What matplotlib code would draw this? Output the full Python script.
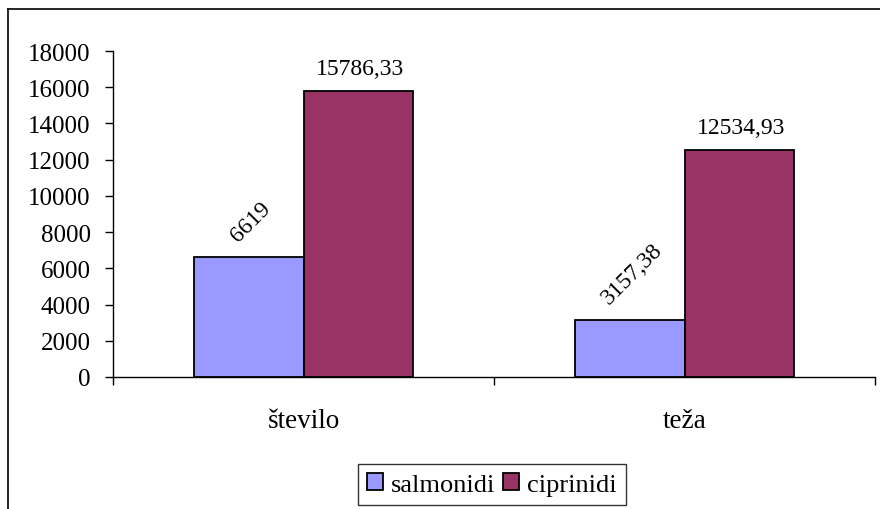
import numpy as np
import matplotlib
matplotlib.use('Agg')
from matplotlib import pyplot as plt
from matplotlib.lines import Line2D

categories = ['število', 'teža']
series_names = ['salmonidi', 'ciprinidi']
salmonidi = [6619, 3157.38]
ciprinidi = [15786.33, 12534.93]
value_labels = [['6619', '3157,38'], ['15786,33', '12534,93']]
y_ticks = [0, 2000, 4000, 6000, 8000, 10000, 12000, 14000, 16000, 18000]

colors = ['#9999FF', '#993366']
label_rotation = [45, 0]

plt.rcParams['font.family'] = ['Liberation Serif', 'DejaVu Serif']
plt.rcParams['font.size'] = 17

fig = plt.figure(figsize=(8.8, 5.1), dpi=100)
W, H = 880.0, 510.0

# chart area frame (only left and top edges are visible in the crop)
fig.add_artist(Line2D([8 / W, 8 / W], [0, 1 - 10 / H], transform=fig.transFigure, color='black', lw=1.2))
fig.add_artist(Line2D([8 / W, 1], [1 - 10 / H, 1 - 10 / H], transform=fig.transFigure, color='black', lw=1.2))

ax = fig.add_axes([113 / W, 132 / H, (875 - 113) / W, (378 - 52) / H])

x = np.arange(len(categories))
width = 0.287
series = [salmonidi, ciprinidi]
for i, values in enumerate(series):
    offset = (i - 0.5) * width
    bars = ax.bar(x + offset, values, width, color=colors[i], edgecolor='black',
                  linewidth=1.3, label=series_names[i], zorder=3)
    for b, txt in zip(bars, value_labels[i]):
        ax.annotate(txt, (b.get_x() + b.get_width() / 2, b.get_height()),
                    xytext=(2, 12), textcoords='offset pixels', fontsize=17,
                    ha='center', va='bottom', rotation=label_rotation[i])

ax.set_xlim(-0.5, len(categories) - 0.5)
ax.set_ylim(0, 18000)
ax.set_yticks(y_ticks)
ax.set_xticks(x)
ax.set_xticklabels(categories, fontsize=19.5)
ax.set_xticks(np.arange(len(categories) + 1) - 0.5, minor=True)
for lbl in ax.get_yticklabels():
    lbl.set_fontsize(18)

for side in ['top', 'right']:
    ax.spines[side].set_visible(False)
ax.spines['left'].set_linewidth(1.0)
ax.spines['bottom'].set_linewidth(1.0)

ax.tick_params(axis='y', direction='out', length=6, width=1.0, pad=10)
ax.tick_params(axis='x', which='major', length=0, pad=22)
ax.tick_params(axis='x', which='minor', direction='out', length=6, width=1.0)

leg = fig.legend(loc='center', bbox_to_anchor=(492 / W, 1 - 485.5 / H), ncol=2,
                 frameon=True, fancybox=False, shadow=False, fontsize=19,
                 handlelength=0.6, handleheight=0.6, handletextpad=0.3,
                 columnspacing=0.3, borderpad=0.35, borderaxespad=0)
leg.get_frame().set_edgecolor('black')
leg.get_frame().set_linewidth(1.0)

fig.savefig('out.png', dpi=100)
